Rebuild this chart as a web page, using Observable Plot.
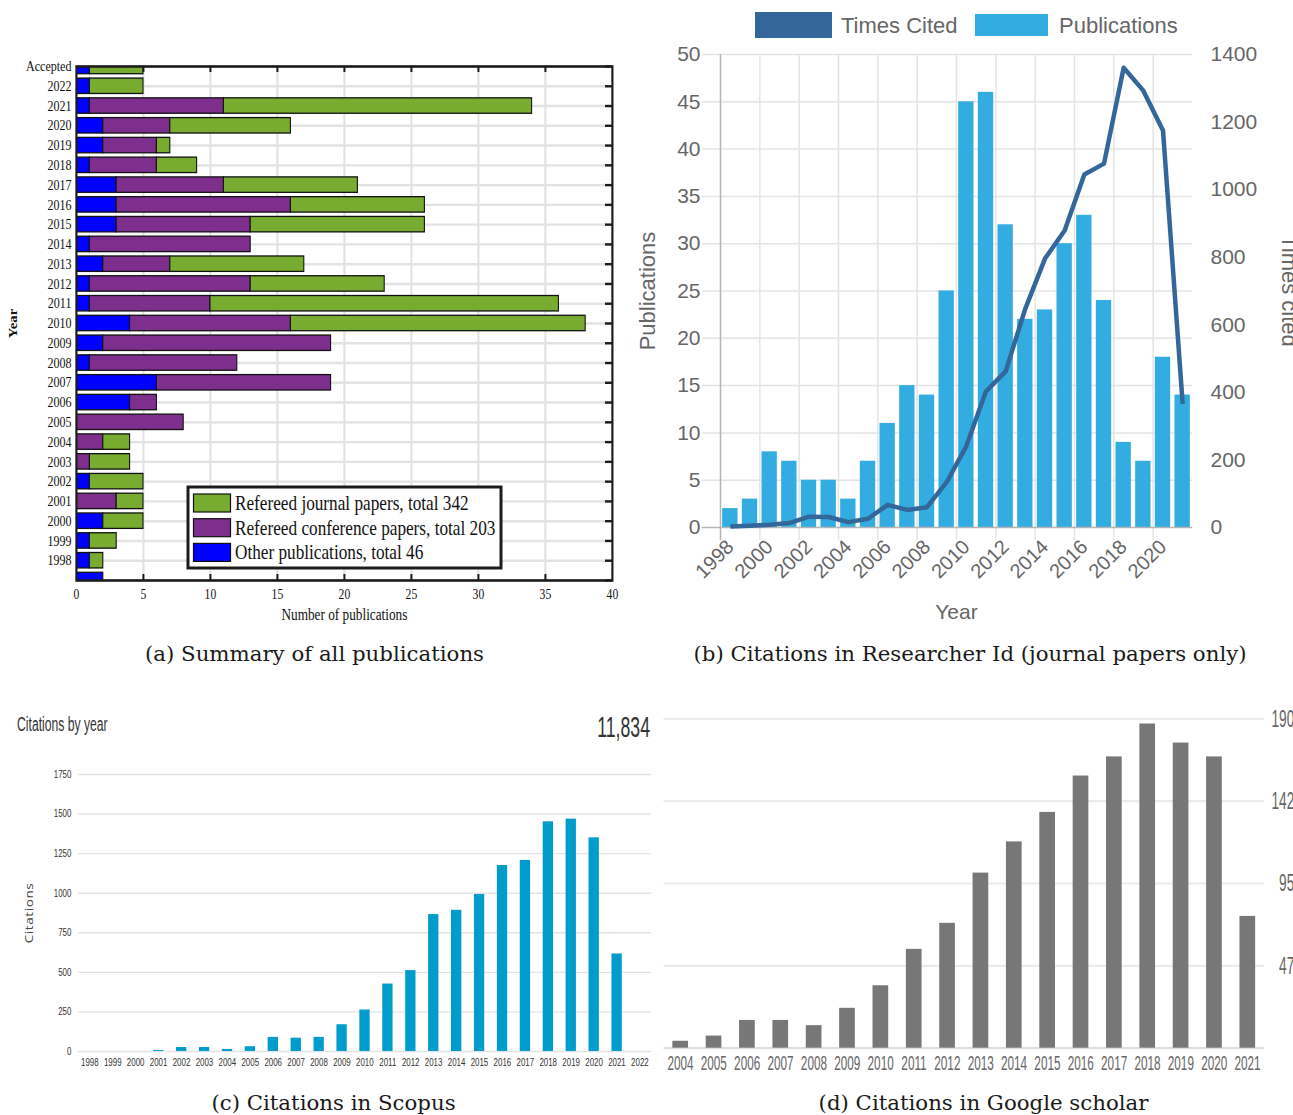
<!DOCTYPE html>
<html><head><meta charset="utf-8">
<script src="https://cdn.jsdelivr.net/npm/d3@7"></script>
<script src="https://cdn.jsdelivr.net/npm/@observablehq/plot@0.6"></script>
<style>
html,body{margin:0;padding:0;background:#fff;}
body{width:1293px;height:1115px;overflow:hidden;position:relative;}
.panel{position:absolute;transform-origin:0 0;}
.panel svg{display:block;max-width:none;}
#overlay{position:absolute;left:0;top:0;}
</style></head><body>
<div id="pa" class="panel"></div>
<div id="pb" class="panel"></div>
<div id="pc" class="panel"></div>
<div id="pd" class="panel"></div>
<script>
// ---------------- DATA ----------------
// (a) Summary of all publications (rows top to bottom)
const rowLabels = ["Accepted","2022","2021","2020","2019","2018","2017","2016","2015","2014","2013","2012","2011","2010","2009","2008","2007","2006","2005","2004","2003","2002","2001","2000","1999","1998",""];
const otherPubs        = [1,1,1,2,2,1,3,3,3,1,2,1,1,4,2,1,6,4,0,0,0,1,0,2,1,1,2];
const conferencePapers = [0,0,10,5,4,5,8,13,10,12,5,12,9,12,17,11,13,2,8,2,1,0,3,0,0,0,0];
const journalPapers    = [4,4,23,9,1,3,10,10,13,0,10,10,26,22,0,0,0,0,0,2,3,4,2,3,2,1,0];
const seriesA = ["Other publications","Refereed conference papers","Refereed journal papers"];
const colorsA = ["#0000ff","#7e2f8e","#77ac30"];
const legendLabelsA = ["Refereed journal papers, total 342","Refereed conference papers, total 203","Other publications, total 46"];
const xTicksA = [0,5,10,15,20,25,30,35,40];

// (b) Researcher Id
const yearsB = [1998,1999,2000,2001,2002,2003,2004,2005,2006,2007,2008,2009,2010,2011,2012,2013,2014,2015,2016,2017,2018,2019,2020,2021];
const pubsB  = [2,3,8,7,5,5,3,7,11,15,14,25,45,46,32,22,23,30,33,24,9,7,18,14];
const citedB = [3,5,8,13,32,31,16,26,67,52,60,134,241,403,462,648,796,879,1045,1077,1361,1293,1175,366];
const pubTicksB = [0,5,10,15,20,25,30,35,40,45,50];
const citedTicksB = [0,200,400,600,800,1000,1200,1400];
const legendLabelsB = ["Times Cited","Publications"];

// (c) Scopus
const yearsC  = [1998,1999,2000,2001,2002,2003,2004,2005,2006,2007,2008,2009,2010,2011,2012,2013,2014,2015,2016,2017,2018,2019,2020,2021,2022];
const scopusC = [0,0,0,6,25,25,13,30,89,84,89,169,262,426,511,865,892,992,1175,1207,1451,1468,1350,616,0];
const scopusTicks = [0,250,500,750,1000,1250,1500,1750];
const scopusTotal = "11,834";

// (d) Google scholar
const yearsD = [2004,2005,2006,2007,2008,2009,2010,2011,2012,2013,2014,2015,2016,2017,2018,2019,2020,2021];
const scholarD = [4,7,16,16,13,23,36,57,72,101,119,136,157,168,187,176,168,76];
const scholarTicks = [47.5,95,142.5,190];
const scholarTickLabels = ["47","95","142","190"];

const captions = ["(a) Summary of all publications","(b) Citations in Researcher Id (journal papers only)","(c) Citations in Scopus","(d) Citations in Google scholar"];

const yearFmt = d => String(d);

// ---------------- PANEL A ----------------
const sA = 0.83;
const A = {left:0, top:50, width:630, height:590, fx0:76, fx1:612, fy0:66, fy1:580};
const wA = A.width / sA;
const frameHA = A.fy1 - A.fy0;
const frameWA = (A.fx1 - A.fx0) / sA;
const rows = d3.range(rowLabels.length);
const seriesArrays = [otherPubs, conferencePapers, journalPapers];
const stackedA = [];
rows.forEach(i => {
  let acc = 0;
  seriesArrays.forEach((arr, k) => {
    if (arr[i] > 0) stackedA.push({row: i, series: seriesA[k], x1: acc, x2: acc + arr[i]});
    acc += arr[i];
  });
});
const halfBar = 0.39;
const inner = xTicksA.slice(1, -1);
const plotA = Plot.plot({
  width: wA, height: A.height,
  marginLeft: A.fx0 / sA, marginRight: wA - A.fx1 / sA,
  marginTop: A.fy0 - A.top, marginBottom: A.top + A.height - A.fy1,
  style: {fontFamily: "'Liberation Serif','Times New Roman',serif", fontSize: "14.5px", color: "#111", background: "transparent", overflow: "visible", maxWidth: "none"},
  x: {domain: [0, 40]},
  y: {domain: [rows.length - 1, 0]},
  color: {domain: seriesA, range: colorsA},
  marks: [
    Plot.ruleX(inner, {stroke: "#e2e2e2", strokeWidth: 2.6}),
    Plot.ruleY(rows, {stroke: "#e2e2e2", strokeWidth: 2.4}),
    Plot.rectX(stackedA, {x1: "x1", x2: "x2", y1: d => d.row - halfBar, y2: d => d.row + halfBar, fill: "series", stroke: "#111", strokeWidth: 1.3, clip: true}),
    Plot.frame({stroke: "#1c1c1c", strokeWidth: 2.6}),
    Plot.ruleX(inner, {stroke: "#1c1c1c", strokeWidth: 2.4, insetBottom: frameHA - 6}),
    Plot.ruleX(inner, {stroke: "#1c1c1c", strokeWidth: 2.4, insetTop: frameHA - 6}),
    Plot.ruleY(rows, {stroke: "#1c1c1c", strokeWidth: 2.4, insetLeft: frameWA - 7 / sA}),
    Plot.axisY({ticks: rows.slice(0, -1), tickSize: 0, tickPadding: 6, tickFormat: i => rowLabels[i], label: null}),
    Plot.axisX({ticks: xTicksA, tickSize: 0, tickPadding: 9, fontSize: 14, label: null}),
    Plot.text(["Number of publications"], {frameAnchor: "bottom", dy: 28, lineAnchor: "top", textAnchor: "middle", fontSize: 16}),
    Plot.text(["Year"], {frameAnchor: "left", dx: (13 - A.fx0) / sA, rotate: -90, textAnchor: "middle", fontSize: 14.7, fontWeight: "bold"})
  ]
});
const pa = document.getElementById("pa");
pa.style.left = A.left + "px"; pa.style.top = A.top + "px"; pa.style.transform = `scaleX(${sA})`;
pa.appendChild(plotA);

// ---------------- PANEL B ----------------
const B = {left:630, top:0, width:663, height:640, fx0:720, fx1:1192, fy0:54, fy1:527};
const stepB = (B.fx1 - B.fx0) / yearsB.length;
const citedScale = citedTicksB[citedTicksB.length-1] / pubTicksB[pubTicksB.length-1];
const tableB = yearsB.map((y, i) => ({year: y, pubs: pubsB[i], cited: citedB[i]}));
const plotB = Plot.plot({
  width: B.width, height: B.height,
  marginLeft: B.fx0 - B.left, marginRight: B.left + B.width - B.fx1,
  marginTop: B.fy0 - B.top, marginBottom: B.top + B.height - B.fy1,
  style: {fontFamily: "'Liberation Sans',Arial,Helvetica,sans-serif", fontSize: "21px", color: "#666", background: "transparent", overflow: "visible", maxWidth: "none"},
  x: {type: "band", domain: yearsB, paddingInner: 0.22, paddingOuter: 0.11, align: 0.5, round: false},
  y: {domain: [0, 50]},
  marks: [
    Plot.ruleY(pubTicksB.slice(1), {stroke: "#e4e4e4", strokeWidth: 1.5, insetLeft: -18}),
    Plot.ruleX(yearsB.filter(y => y % 2 === 0 && y !== yearsB[0]), {dx: -stepB/2, stroke: "#e4e4e4", strokeWidth: 1.5, insetBottom: -13}),
    Plot.barY(tableB, {x: "year", y: "pubs", fill: "#33ade1"}),
    Plot.ruleY([0], {stroke: "#b5b5b5", strokeWidth: 1.5, insetLeft: -18}),
    Plot.ruleX([yearsB[0]], {dx: -stepB/2, stroke: "#b5b5b5", strokeWidth: 1.5, insetBottom: -13}),
    Plot.line(tableB, {x: "year", y: d => d.cited / citedScale, stroke: "#336699", strokeWidth: 4.5, strokeLinejoin: "round", strokeLinecap: "butt"}),
    Plot.axisY({ticks: pubTicksB, tickSize: 0, tickPadding: 20, label: null}),
    Plot.axisY({anchor: "right", ticks: citedTicksB.map(v => v / citedScale), tickFormat: v => String(Math.round(v * citedScale)), tickSize: 0, tickPadding: 18, label: null}),
    Plot.axisX({ticks: yearsB.filter(y => y % 2 === 0), tickFormat: yearFmt, tickRotate: -45, tickSize: 0, tickPadding: 16, fontSize: 20, label: null}),
    Plot.text(["Publications"], {frameAnchor: "left", dx: -73, rotate: -90, textAnchor: "middle", fontSize: 22}),
    Plot.text(["Times cited"], {frameAnchor: "right", dx: 97, rotate: 90, textAnchor: "middle", fontSize: 22}),
    Plot.text(["Year"], {frameAnchor: "bottom", dy: 77, lineAnchor: "top", textAnchor: "middle", fontSize: 21})
  ]
});
const pb = document.getElementById("pb");
pb.style.left = B.left + "px"; pb.style.top = B.top + "px";
pb.appendChild(plotB);

// ---------------- PANEL C ----------------
const sC = 0.74;
const C = {left:0, top:690, width:660, height:400, fx0:78, fx1:651, fy0:774, fy1:1051};
const wC = C.width / sC;
const tableC = yearsC.map((y, i) => ({year: y, c: scopusC[i]}));
const plotC = Plot.plot({
  width: wC, height: C.height,
  marginLeft: (C.fx0 - C.left) / sC, marginRight: wC - (C.fx1 - C.left) / sC,
  marginTop: C.fy0 - C.top, marginBottom: C.top + C.height - C.fy1,
  style: {fontFamily: "'Liberation Sans',Arial,sans-serif", fontSize: "10.7px", color: "#333", background: "transparent", overflow: "visible", maxWidth: "none"},
  x: {type: "band", domain: yearsC, paddingInner: 0.55, paddingOuter: 0.275, align: 0.5, round: false},
  y: {domain: [0, 1750]},
  marks: [
    Plot.ruleY(scopusTicks, {stroke: "#e3e3e3", strokeWidth: 1.4}),
    Plot.barY(tableC, {x: "year", y: "c", fill: "#009dcc"}),
    Plot.axisY({ticks: scopusTicks, tickFormat: yearFmt, tickSize: 0, tickPadding: 7 / sC, label: null}),
    Plot.axisX({tickFormat: yearFmt, tickSize: 0, tickPadding: 7, label: null})
  ]
});
const pc = document.getElementById("pc");
pc.style.left = C.left + "px"; pc.style.top = C.top + "px"; pc.style.transform = `scaleX(${sC})`;
pc.appendChild(plotC);

// ---------------- PANEL D ----------------
const sD = 0.56;
const D = {left:660, top:690, width:633, height:400, fx0:663.5, fx1:1264, fy0:718.3, fy1:1047.7};
const wD = D.width / sD;
const tableD = yearsD.map((y, i) => ({year: y, c: scholarD[i]}));
const tickTableD = scholarTicks.map((v, i) => ({v, label: scholarTickLabels[i]}));
const plotD = Plot.plot({
  width: wD, height: D.height,
  marginLeft: (D.fx0 - D.left) / sD, marginRight: wD - (D.fx1 - D.left) / sD,
  marginTop: D.fy0 - D.top, marginBottom: D.top + D.height - D.fy1,
  style: {fontFamily: "'Liberation Sans',Arial,sans-serif", fontSize: "21px", color: "#666", background: "transparent", overflow: "visible", maxWidth: "none"},
  x: {type: "band", domain: yearsD, paddingInner: 0.53, paddingOuter: 0.265, align: 0.5, round: false},
  y: {domain: [0, 190], axis: null},
  marks: [
    Plot.ruleY(scholarTicks, {stroke: "#ebebeb", strokeWidth: 2.2}),
    Plot.ruleY([0], {stroke: "#dedede", strokeWidth: 2.2}),
    Plot.barY(tableD, {x: "year", y: "c", fill: "#777777"}),
    Plot.axisX({tickFormat: yearFmt, tickSize: 0, tickPadding: 7, label: null}),
    Plot.text(tickTableD, {y: "v", text: "label", frameAnchor: "right", textAnchor: "end", dx: (1294 - D.fx1) / sD, fontSize: 24.5, fill: "#666"})
  ]
});
const pd = document.getElementById("pd");
pd.style.left = D.left + "px"; pd.style.top = D.top + "px"; pd.style.transform = `scaleX(${sD})`;
pd.appendChild(plotD);

// ---------------- OVERLAY: legends, titles, captions ----------------
const ov = d3.select("body").append("svg").attr("id", "overlay").attr("width", 1293).attr("height", 1115);

// legend (a)
const lgA = ov.append("g");
lgA.append("rect").attr("x", 188).attr("y", 487).attr("width", 313).attr("height", 81)
  .attr("fill", "#fff").attr("stroke", "#1c1c1c").attr("stroke-width", 3);
const legendColorsA = [colorsA[2], colorsA[1], colorsA[0]];
legendLabelsA.forEach((lab, i) => {
  lgA.append("rect").attr("x", 193.5).attr("y", 494 + i * 24.7).attr("width", 37).attr("height", 18)
    .attr("fill", legendColorsA[i]).attr("stroke", "#111").attr("stroke-width", 1.2);
  lgA.append("text").attr("transform", `translate(235,${510 + i * 24.7}) scale(0.82,1)`)
    .attr("font-family", "'Liberation Serif','Times New Roman',serif").attr("font-size", 21).attr("fill", "#111").text(lab);
});

// legend (b)
ov.append("rect").attr("x", 755).attr("y", 12).attr("width", 77).attr("height", 26).attr("fill", "#336699");
ov.append("text").attr("x", 841).attr("y", 33).attr("font-family", "'Liberation Sans',Arial,sans-serif").attr("font-size", 22).attr("fill", "#666").text(legendLabelsB[0]);
ov.append("rect").attr("x", 975).attr("y", 14).attr("width", 73).attr("height", 22).attr("fill", "#33ade1");
ov.append("text").attr("x", 1059).attr("y", 33).attr("font-family", "'Liberation Sans',Arial,sans-serif").attr("font-size", 22).attr("fill", "#666").text(legendLabelsB[1]);

// titles (c)
ov.append("text").attr("transform", "translate(17,731) scale(0.58,1)").attr("font-family", "'Liberation Sans',Arial,sans-serif").attr("font-size", 21).attr("fill", "#333").text("Citations by year");
ov.append("text").attr("transform", "translate(650,737) scale(0.59,1)").attr("text-anchor", "end").attr("font-family", "'Liberation Sans',Arial,sans-serif").attr("font-size", 30).attr("fill", "#333").text(scopusTotal);
ov.append("text").attr("transform", "translate(33,913) rotate(-90) scale(1,0.74)").attr("text-anchor", "middle").attr("font-family", "'Open Sans','Liberation Sans',sans-serif").attr("font-size", 13.5).attr("letter-spacing", 0.6).attr("fill", "#444").text("Citations");

// captions
const capPos = [[314.5, 661], [970, 661], [333.5, 1110], [983.5, 1110]];
captions.forEach((c, i) => {
  ov.append("text").attr("x", capPos[i][0]).attr("y", capPos[i][1]).attr("text-anchor", "middle")
    .attr("font-family", "'DejaVu Serif',serif").attr("font-size", 21.3).attr("fill", "#1a1a1a").text(c);
});
</script></body></html>
